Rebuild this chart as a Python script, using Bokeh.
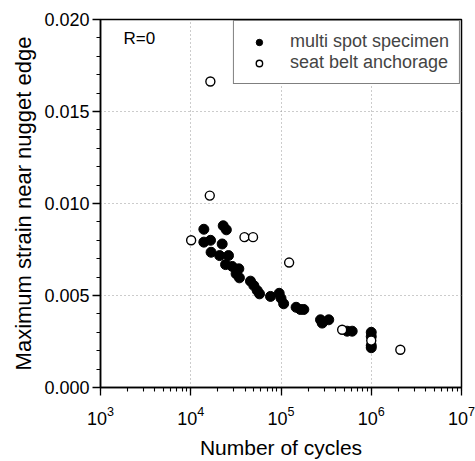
from bokeh.plotting import figure
from bokeh.models import Legend, LegendItem, Label, FixedTicker, NumeralTickFormatter, LogTicker
from bokeh.embed import file_html
from bokeh.resources import INLINE

# multi spot specimen
multi_cycles = [13970, 22900, 24800, 13970, 16560, 22300, 16800, 20900, 26200, 24300,
                28800, 34100, 31800, 34600, 45900, 50000, 54500, 57800, 76500, 95500,
                100000, 107000, 147000, 164000, 179000, 274000, 286000, 338000, 541000,
                615000, 1000000, 1000000, 1000000, 1000000]
multi_strain = [0.0086, 0.00879, 0.00857, 0.0079, 0.0080, 0.0078, 0.00735, 0.00717, 0.00717, 0.00668,
                0.00658, 0.00645, 0.00618, 0.00596, 0.00578, 0.00554, 0.00527, 0.00509, 0.00495, 0.00512,
                0.00485, 0.00455, 0.00436, 0.00424, 0.00424, 0.00368, 0.0035, 0.00368, 0.00306,
                0.00306, 0.0030, 0.00277, 0.00228, 0.00216]

# seat belt anchorage
belt_cycles = [10100, 16250, 16500, 39400, 49000, 123000, 476000, 1000000, 2100000]
belt_strain = [0.0080, 0.01043, 0.01663, 0.00817, 0.00817, 0.00679, 0.00314, 0.00255, 0.00205]

y_ticks = [0.0, 0.005, 0.010, 0.015, 0.020]

FONT = "Liberation Sans"

p = figure(width=475, height=461, x_axis_type="log", x_range=(1e3, 1e7), y_range=(0, 0.020),
           output_backend="svg", toolbar_location=None,
           min_border_left=100, min_border_right=14, min_border_top=19, min_border_bottom=74)
p.frame_width = 361
p.frame_height = 368

p.background_fill_color = "white"
p.outline_line_color = "black"
p.outline_line_width = 1.5

r1 = p.scatter(multi_cycles, multi_strain, size=10, marker="circle",
               fill_color="black", line_color="black")
r2 = p.scatter(belt_cycles, belt_strain, size=9, marker="circle",
               fill_color="white", line_color="black", line_width=1.4)

# axes
p.xaxis.ticker = LogTicker(desired_num_ticks=5, num_minor_ticks=10)
p.yaxis.ticker = FixedTicker(ticks=y_ticks, minor_ticks=[i * 0.001 for i in range(21)])
p.yaxis.formatter = NumeralTickFormatter(format="0.000")

for ax in (p.xaxis[0], p.yaxis[0]):
    ax.axis_line_width = 1.5
    ax.axis_line_color = "black"
    ax.major_tick_line_color = "black"
    ax.minor_tick_line_color = "black"
    ax.major_tick_line_width = 1.3
    ax.minor_tick_line_width = 1.1
    ax.major_tick_out = 8
    ax.major_tick_in = 0
    ax.minor_tick_out = 4
    ax.minor_tick_in = 0
    ax.major_label_text_font = FONT
    ax.major_label_text_font_size = "18px"
    ax.major_label_text_color = "black"
    ax.axis_label_text_font = FONT
    ax.axis_label_text_font_style = "normal"
    ax.axis_label_text_color = "black"

p.xaxis.axis_label = "Number of cycles"
p.xaxis.axis_label_text_font_size = "21px"
p.xaxis.major_label_standoff = 10
p.xaxis.axis_label_standoff = 8
p.yaxis.axis_label = "Maximum strain near nugget edge"
p.yaxis.axis_label_text_font_size = "22px"
p.yaxis.major_label_standoff = 3
p.yaxis.axis_label_standoff = 5

p.xgrid.grid_line_color = "#999999"
p.xgrid.grid_line_dash = "1 3"
p.xgrid.grid_line_width = 1
p.ygrid.grid_line_color = "#999999"
p.ygrid.grid_line_dash = "1 3"
p.ygrid.grid_line_width = 1

legend = Legend(items=[LegendItem(label="multi spot specimen", renderers=[r1]),
                       LegendItem(label="seat belt anchorage", renderers=[r2])],
                location="top_right", margin=1, padding=10, spacing=0,
                glyph_width=30, glyph_height=16, label_height=16, label_standoff=16,
                label_text_font=FONT, label_text_font_size="18px",
                border_line_color="black", border_line_width=1.2,
                background_fill_color="white", background_fill_alpha=1)
p.add_layout(legend, "center")

p.add_layout(Label(x=1800, y=0.01897, text="R=0", text_font=FONT, text_font_size="17px",
                   text_baseline="middle", text_color="black"))

open("out.html", "w").write(file_html(p, INLINE))
